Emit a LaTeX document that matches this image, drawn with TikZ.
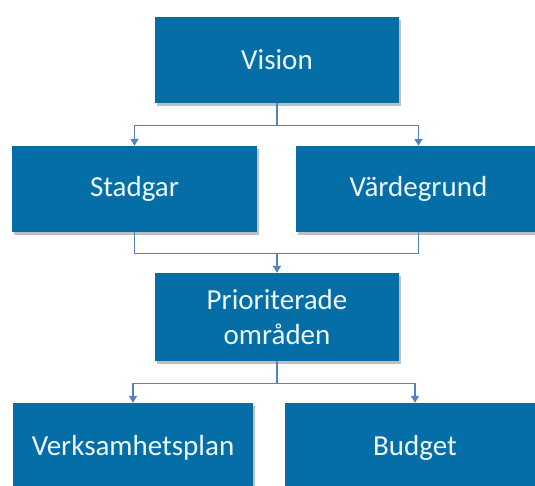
\documentclass[tikz,border=0pt]{standalone}
\usepackage{fontspec}
\setmainfont{Carlito}
\usetikzlibrary{arrows.meta,shadows}
\definecolor{boxblue}{RGB}{6,110,166}
\definecolor{linkblue}{RGB}{84,130,186}
\definecolor{boxtext}{RGB}{236,248,255}
\tikzset{
  box/.style={fill=boxblue, draw=none, text=boxtext, align=center,
    font=\fontsize{29}{35}\selectfont, inner sep=0pt,
    drop shadow={shadow xshift=1.5pt, shadow yshift=-3pt, opacity=0.25, fill=black}},
  link/.style={draw=linkblue, line width=1.3pt, -{Triangle[width=8pt,length=7pt]}}
}
\begin{document}
\begin{tikzpicture}[x=1pt, y=-1pt]
 \useasboundingbox (0,0) rectangle (535,486);
 \clip (0,0) rectangle (535,486);
 \fill[white] (0,0) rectangle (535,486);
 % levels
 \node[box, minimum width=244pt, minimum height=86pt] (vision) at (277,60) {Vision};
 \node[box, minimum width=245pt, minimum height=86pt] (stadgar) at (134.5,189) {Stadgar};
 \node[box, minimum width=245pt, minimum height=86pt] (vardegrund) at (418.5,189) {Värdegrund};
 \node[box, minimum width=244pt, minimum height=88pt] (prio) at (277,317) {Prioriterade\\områden};
 \node[box, minimum width=240pt, minimum height=90pt] (verksamhet) at (133,448) {Verksamhetsplan};
 \node[box, minimum width=260pt, minimum height=90pt] (budget) at (415,448) {Budget};
 % connectors
 \draw[link] (vision.south) -- ++(0,22) -| (stadgar.north);
 \draw[link] (vision.south) -- ++(0,22) -| (vardegrund.north);
 \draw[link, -] (stadgar.south) -- ++(0,21) -| (vardegrund.south);
 \draw[link] (prio.north |- 0,253) -- (prio.north);
 \draw[link] (prio.south) -- ++(0,22) -| (verksamhet.north);
 \draw[link] (prio.south) -- ++(0,22) -| (budget.north);
\end{tikzpicture}
\end{document}
